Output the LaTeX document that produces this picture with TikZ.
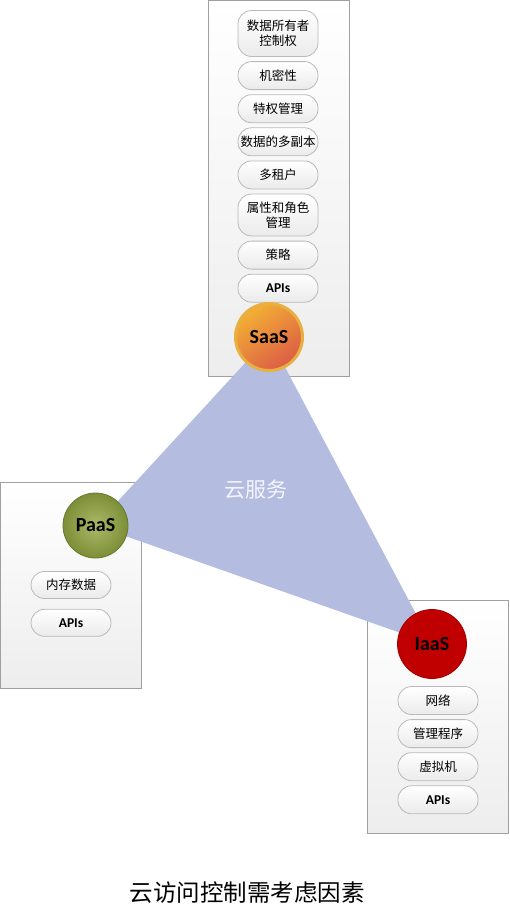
\documentclass[tikz,border=0pt]{standalone}
\usepackage{fontspec}
\setmainfont{Noto Sans CJK SC}
\newfontfamily\apifont{Carlito}
\usepackage{tikz}
\usetikzlibrary{positioning}
\definecolor{cloudLilac}{RGB}{180,189,223}
\definecolor{saasLight}{HTML}{F3B034}
\definecolor{saasDark}{HTML}{DC5C46}
\definecolor{saasRing}{HTML}{E8B040}
\definecolor{paasLight}{HTML}{AABA68}
\definecolor{paasDark}{HTML}{7D8E38}
\definecolor{iaasRed}{HTML}{C00000}
\definecolor{panelLine}{HTML}{A0A0A0}

\begin{document}
\begin{tikzpicture}[
  x=1pt, y=-1pt,
  node distance=4.3pt,
  panel/.style={draw=panelLine, line width=1.3pt, top color=white, bottom color=gray!14,
    anchor=north west, inner sep=0pt},
  pill/.style={draw=gray!55, line width=.8pt, rounded corners=13.5pt, top color=white,
    bottom color=gray!16, minimum width=80pt, minimum height=28pt, inner sep=1pt,
    align=center, font=\fontsize{12.5}{15.5}\selectfont},
  apipill/.style={pill, font=\apifont\bfseries\fontsize{13.5}{15}\selectfont},
  svc/.style={circle, inner sep=0pt, font=\apifont\bfseries\fontsize{20}{22}\selectfont}
]
  \useasboundingbox (0,0) rectangle (509,910);

  % three service panels
  \node[panel, minimum width=141pt, minimum height=376pt] (saaspanel) at (208,0) {};
  \node[panel, minimum width=141pt, minimum height=206pt] (paaspanel) at (0,482) {};
  \node[panel, minimum width=141pt, minimum height=233pt] (iaaspanel) at (367,600) {};

  % SaaS items
  \node[pill, minimum height=46pt] (owner) at (278,33.5) {数据所有者\\控制权};
  \node[pill, below=of owner] (secret) {机密性};
  \node[pill, below=of secret] (priv) {特权管理};
  \node[pill, below=of priv] (copies) {数据的多副本};
  \node[pill, below=of copies] (tenant) {多租户};
  \node[pill, minimum height=42pt, below=of tenant] (attr) {属性和角色\\管理};
  \node[pill, below=of attr] (policy) {策略};
  \node[apipill, below=of policy] (saasapi) {APIs};

  % PaaS items
  \node[pill, minimum height=27pt] (memdata) at (71,585) {内存数据};
  \node[apipill, minimum height=27pt, below=10pt of memdata] (paasapi) {APIs};

  % IaaS items
  \node[pill] (net) at (438,700.5) {网络};
  \node[pill, below=of net] (hyper) {管理程序};
  \node[pill, below=of hyper] (vm) {虚拟机};
  \node[apipill, below=of vm] (iaasapi) {APIs};

  % cloud triangle between the three services
  \coordinate (saasc) at (269,337);
  \coordinate (paasc) at (95.5,525.5);
  \coordinate (iaasc) at (432,644);
  \fill[cloudLilac] (saasc) -- (paasc) -- (iaasc) -- cycle;
  \node[text=white!96!blue, font=\fontsize{21}{24}\selectfont] (cloud) at (256,490) {云服务};

  \node[svc, minimum size=67pt, draw=saasRing, line width=3pt, top color=saasLight,
    bottom color=saasDark, shading angle=35] (saas) at (saasc) {SaaS};
  \node[svc, minimum size=65pt, draw=paasDark!85!black, line width=.8pt,
    inner color=paasLight, outer color=paasDark] (paas) at (paasc) {PaaS};
  \node[svc, minimum size=69pt, draw=iaasRed!85!black, line width=.8pt,
    fill=iaasRed] (iaas) at (iaasc) {IaaS};

  \node[font=\fontsize{23.5}{26}\selectfont] (title) at (247,893) {云访问控制需考虑因素};
\end{tikzpicture}
\end{document}
